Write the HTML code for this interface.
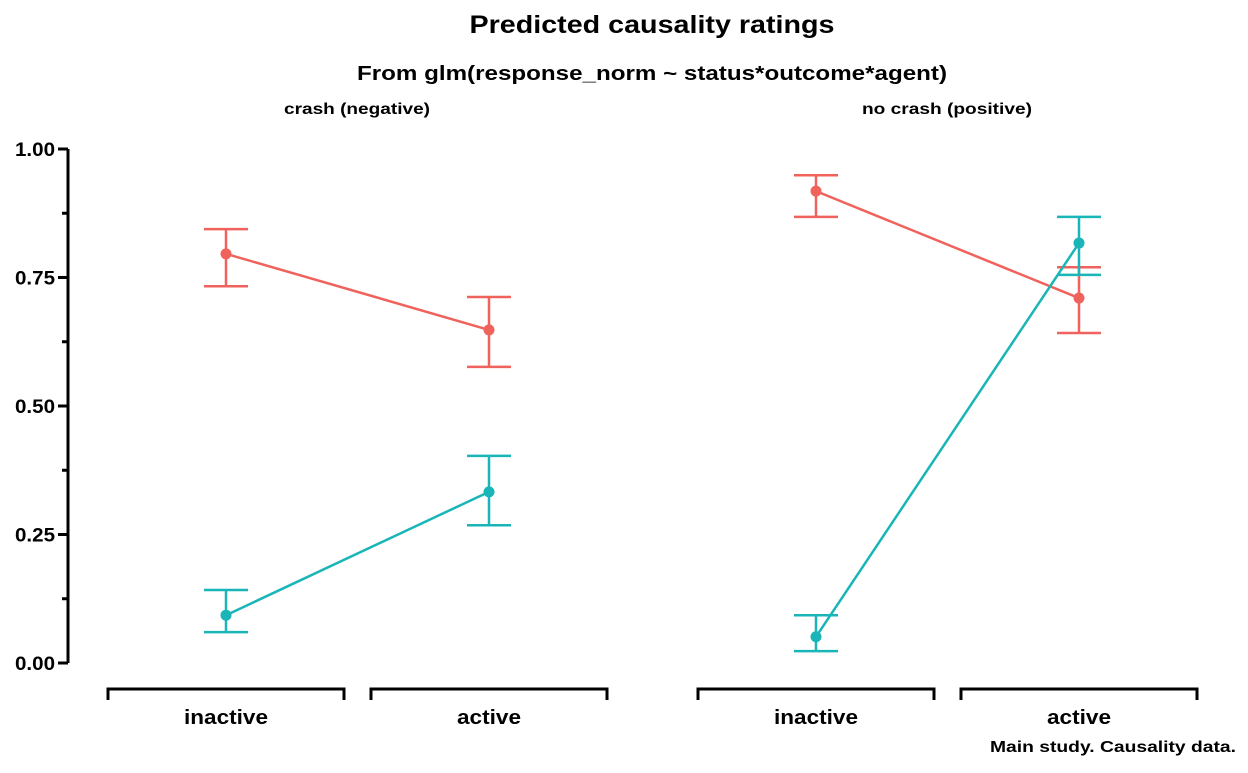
<!DOCTYPE html>
<html><head><meta charset="utf-8"><style>
body{margin:0;background:#fff;font-family:"Liberation Sans",sans-serif;}
</style></head><body>
<svg id="chart" width="1248" height="768" xmlns="http://www.w3.org/2000/svg" font-family="Liberation Sans, sans-serif" font-weight="bold">
<text x="652" y="33" text-anchor="middle" font-size="25" textLength="365" lengthAdjust="spacingAndGlyphs">Predicted causality ratings</text>
<text x="652" y="80" text-anchor="middle" font-size="20" textLength="590" lengthAdjust="spacingAndGlyphs">From glm(response_norm ~ status*outcome*agent)</text>
<text x="357" y="114" text-anchor="middle" font-size="16" textLength="146" lengthAdjust="spacingAndGlyphs">crash (negative)</text>
<text x="947" y="114" text-anchor="middle" font-size="16" textLength="170" lengthAdjust="spacingAndGlyphs">no crash (positive)</text>
<text x="1236" y="752" text-anchor="end" font-size="16" textLength="246" lengthAdjust="spacingAndGlyphs">Main study. Causality data.</text>
<g id="axes"></g>
<g id="marks"></g>
</svg>
<script>
const categories=["inactive","active"];
const panels=["crash","no crash"];
const yTicks=[0,0.25,0.5,0.75,1];
const yTickLabels=["0.00","0.25","0.50","0.75","1.00"];
// [panel][category]
const redMean=[[0.796,0.648],[0.918,0.710]];
const redLo=[[0.733,0.576],[0.868,0.642]];
const redHi=[[0.844,0.712],[0.949,0.770]];
const tealMean=[[0.093,0.333],[0.051,0.817]];
const tealLo=[[0.060,0.268],[0.023,0.755]];
const tealHi=[[0.142,0.403],[0.093,0.868]];

const NS="http://www.w3.org/2000/svg";
const y=v=>663-v*514;
const panelX0=[226,816], step=263;
const x=(p,c)=>panelX0[p]+c*step;
function mk(tag,attrs,parent){const e=document.createElementNS(NS,tag);for(const k in attrs)e.setAttribute(k,attrs[k]);parent.appendChild(e);return e;}
const axes=document.getElementById('axes'), marks=document.getElementById('marks');
let e=mk('line',{x1:68,x2:68,y1:y(1),y2:y(0),stroke:'#000','stroke-width':3},axes);

yTicks.forEach((t,i)=>{
 let l=mk('line',{x1:58,x2:68,y1:y(t),y2:y(t),stroke:'#000','stroke-width':3},axes);
 
 let tx=mk('text',{x:55,y:y(t)+7,'text-anchor':'end','font-size':19,textLength:40,lengthAdjust:'spacingAndGlyphs'},axes);tx.textContent=yTickLabels[i];
 
 if(i<yTicks.length-1){let m=mk('line',{x1:62,x2:68,y1:y(t+0.125),y2:y(t+0.125),stroke:'#000','stroke-width':3},axes);
 }
});
panels.forEach((p,pi)=>categories.forEach((c,ci)=>{
 const cx=x(pi,ci);
 let b=mk('path',{d:`M${cx-118},700V689H${cx+118}V700`,fill:'none',stroke:'#000','stroke-width':3},axes);
 
 let t=mk('text',{x:cx,y:724,'text-anchor':'middle','font-size':20,textLength:(c==='inactive'?84:64),lengthAdjust:'spacingAndGlyphs'},axes);t.textContent=c;
 
}));
function series(mean,lo,hi,col,name){
 panels.forEach((p,pi)=>{
  let ln=mk('line',{x1:x(pi,0),y1:y(mean[pi][0]),x2:x(pi,1),y2:y(mean[pi][1]),stroke:col,'stroke-width':2.5},marks);
  
  categories.forEach((c,ci)=>{
   const cx=x(pi,ci);
   let eb=mk('path',{d:`M${cx-22},${y(hi[pi][ci])}H${cx+22}M${cx},${y(hi[pi][ci])}V${y(lo[pi][ci])}M${cx-22},${y(lo[pi][ci])}H${cx+22}`,fill:'none',stroke:col,'stroke-width':2.5},marks);
   
   let pt=mk('circle',{cx:cx,cy:y(mean[pi][ci]),r:5.5,fill:col},marks);
   
  });
 });
}
series(redMean,redLo,redHi,'#F0625C','red-series');
series(tealMean,tealLo,tealHi,'#19B5B8','teal-series');
</script>
</body></html>
